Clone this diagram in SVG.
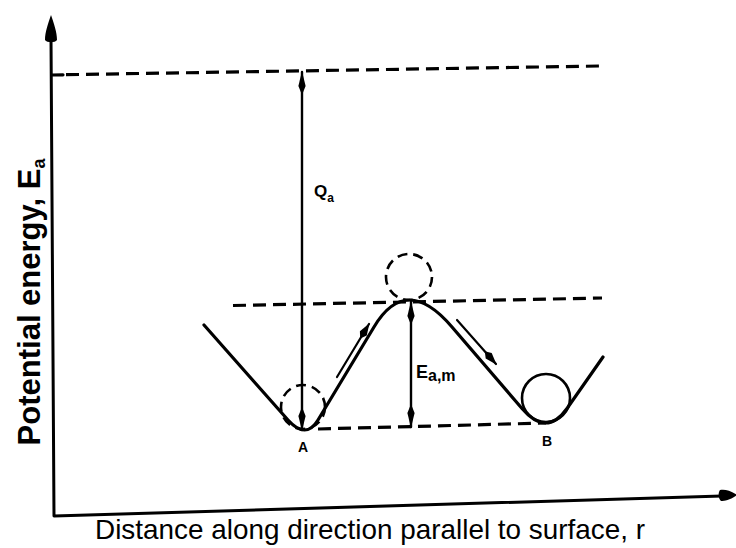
<svg xmlns="http://www.w3.org/2000/svg" width="736" height="548" viewBox="0 0 736 548">
<style>
.ln{stroke:#000;fill:none;stroke-linecap:round;stroke-linejoin:round}
.dash{stroke:#000;fill:none;stroke-width:3.2;stroke-dasharray:13 7}
.lbl{font-family:"Liberation Sans",Arial,sans-serif;fill:#000}
</style>
<defs>
<marker id="ah" viewBox="0 0 24 8" refX="23" refY="4" markerWidth="24" markerHeight="8" markerUnits="userSpaceOnUse" orient="auto-start-reverse">
<path d="M0,4 L9,0.4 L24,4 L9,7.6 Z" fill="#000"/>
</marker>
<marker id="ahs" viewBox="0 0 18 9" refX="17" refY="4.5" markerWidth="18" markerHeight="9" markerUnits="userSpaceOnUse" orient="auto">
<path d="M0,4.5 L6,0.5 L18,4.5 L6,8.5 Z" fill="#000"/>
</marker>
</defs>
<rect width="736" height="548" fill="#fff"/>

<g id="axes">
<path class="ln" stroke-width="3" d="M51,38 L54,516 L722,496"/>
<path d="M51,15 C54,24 57,32 57,40 C55,43 47,43 45,40 C45,32 48,24 51,15 Z" fill="#000"/>
<path d="M737,495 C730,490 724,489 720,490 C718,493 718,498 721,501 C725,501 730,500 737,495 Z" fill="#000"/>
</g>

<g id="connectors">
<path d="M52,75 L63,74.8" class="ln" stroke-width="3.2"/>
<path class="dash" d="M66,74.7 L600,66"/>
<path class="dash" d="M233,305.5 L602,298"/>
<path class="dash" d="M318,429 L546,423"/>
<line class="ln" stroke-width="2.4" x1="302" y1="72" x2="302" y2="430" marker-start="url(#ah)" marker-end="url(#ah)"/>
<line class="ln" stroke-width="2.4" x1="411" y1="302" x2="411" y2="427" marker-start="url(#ah)" marker-end="url(#ah)"/>
<line class="ln" stroke-width="2.2" x1="337" y1="377" x2="369" y2="324" marker-end="url(#ahs)"/>
<line class="ln" stroke-width="2.2" x1="457" y1="320" x2="496" y2="364" marker-end="url(#ahs)"/>
</g>

<g id="curve">
<path class="ln" stroke-width="3.2" d="M204,325 L288,420 Q306,440 318,420 L374,327 Q406,273 452,327 L522,408.5 Q546.5,437.5 567,408.5 L603,357"/>
</g>

<g id="ballA">
<circle cx="303" cy="407" r="22" fill="none" stroke="#000" stroke-width="2.6" stroke-dasharray="10 6"/>
</g>
<g id="ballPeak">
<circle cx="409" cy="277" r="23" fill="none" stroke="#000" stroke-width="2.6" stroke-dasharray="10 6"/>
</g>
<g id="ballB">
<circle cx="546" cy="398" r="24" fill="none" stroke="#000" stroke-width="2.6"/>
</g>

<g id="labels">
<text class="lbl" x="303" y="452" font-size="14" font-weight="bold" text-anchor="middle">A</text>
<text class="lbl" x="547" y="446" font-size="14" font-weight="bold" text-anchor="middle">B</text>
<text class="lbl" x="314" y="197" font-size="17" font-weight="bold">Q<tspan font-size="12" dy="5">a</tspan></text>
<text class="lbl" x="416" y="378" font-size="18" font-weight="bold">E<tspan font-size="16" dy="3">a,m</tspan></text>
<text class="lbl" transform="rotate(-90)" x="-302" y="40" font-size="31" font-weight="bold" text-anchor="middle">Potential energy, E<tspan font-size="18" dy="5">a</tspan></text>
<text class="lbl" x="95" y="539" font-size="28" textLength="550" lengthAdjust="spacingAndGlyphs">Distance along direction parallel to surface, r</text>
</g>
</svg>
